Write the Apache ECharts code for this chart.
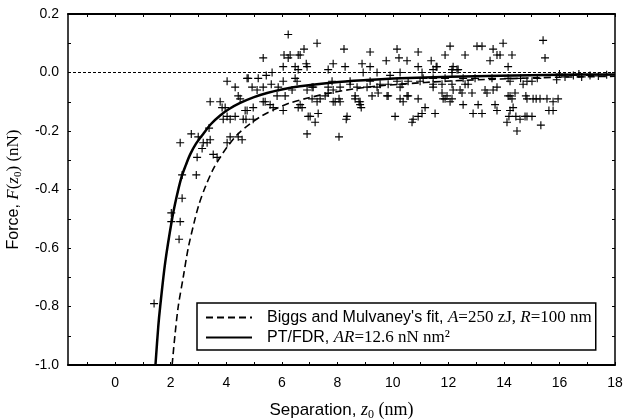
<!DOCTYPE html>
<html>
<head>
<meta charset="utf-8">
<script src="https://cdn.jsdelivr.net/npm/echarts@6/dist/echarts.min.js"></script>
<style>
html, body { margin: 0; padding: 0; background: #fff; }
#chart { width: 625px; height: 419px; }
</style>
</head>
<body>
<div id="chart"></div>
<script>
// axis ticks / labels
var xLabels = [0, 2, 4, 6, 8, 10, 12, 14, 16, 18];
var xTicks = [-1, 0, 1, 2, 3, 4, 5, 6, 7, 8, 9, 10, 11, 12, 13, 14, 15, 16, 17, 18];
var yLabels = [-1.0, -0.8, -0.6, -0.4, -0.2, 0.0, 0.2];
var yTicks = [-1.0, -0.9, -0.8, -0.7, -0.6, -0.5, -0.4, -0.3, -0.2, -0.1, 0.0, 0.1, 0.2];

// measured force points [z0 (nm), F (nN)]
var measured = [
  [1.40,-0.79],[2.02,-0.48],[2.02,-0.51],[2.34,-0.51],[2.30,-0.57],[2.41,-0.43],[2.41,-0.35],[2.92,-0.35],
  [2.34,-0.24],[2.74,-0.21],[2.95,-0.29],[3.13,-0.26],[2.99,-0.22],[3.17,-0.24],[3.42,-0.23],[3.31,-0.24],
  [3.38,-0.19],[3.53,-0.28],[3.67,-0.29],[3.42,-0.10],[3.78,-0.10],[3.96,-0.12],[3.85,-0.12],[4.03,-0.15],
  [4.14,-0.16],[3.89,-0.16],[4.32,-0.15],[4.14,-0.22],[4.43,-0.22],[4.03,-0.24],[4.03,-0.03],[4.32,-0.05],
  [4.43,-0.08],[4.50,-0.09],[4.75,-0.02],[4.75,-0.13],[4.71,-0.16],[4.97,-0.16],[4.97,-0.12],[4.93,-0.05],
  [5.15,-0.02],[5.11,-0.06],[5.33,0.05],[5.33,-0.05],[5.40,-0.10],[5.58,-0.11],[5.65,0.00],[5.62,-0.04],
  [5.87,-0.05],[5.83,-0.08],[6.05,-0.13],[6.05,-0.03],[6.05,0.02],[6.08,0.06],[6.23,0.13],[6.23,0.05],
  [6.12,-0.08],[6.37,-0.06],[6.48,0.02],[6.59,0.01],[6.66,0.06],[6.80,0.08],[6.88,0.03],[6.91,-0.21],
  [6.55,-0.03],[6.66,-0.11],[6.73,-0.12],[7.02,-0.15],[7.20,-0.17],[7.27,0.10],[7.13,-0.05],[7.27,-0.10],
  [7.31,-0.14],[7.38,-0.09],[7.56,-0.08],[7.67,-0.05],[7.67,0.01],[7.85,0.03],[7.85,-0.10],[8.06,-0.09],
  [8.06,-0.22],[8.28,0.02],[8.24,0.08],[8.35,-0.15],[8.10,-0.05],[8.46,-0.04],[8.64,-0.09],[8.78,-0.10],
  [8.86,-0.12],[8.89,0.03],[9.18,0.07],[9.18,0.02],[9.25,-0.08],[9.43,-0.05],[9.54,-0.04],[9.79,-0.08],
  [9.76,0.04],[10.08,-0.15],[10.15,0.08],[10.22,0.05],[10.51,0.04],[10.26,-0.09],[10.51,-0.08],[10.26,-0.05],
  [10.73,-0.16],[10.91,-0.15],[10.91,-0.09],[10.91,0.07],[10.91,0.02],[11.16,-0.12],[11.38,0.04],[11.45,-0.05],
  [11.52,-0.14],[11.59,0.02],[11.81,-0.09],[11.95,-0.08],[11.88,0.06],[12.06,0.09],[12.13,0.01],[12.13,-0.09],
  [12.31,0.01],[12.42,-0.06],[12.53,-0.11],[12.60,0.06],[12.60,-0.04],[12.85,-0.07],[12.89,-0.14],[13.03,0.09],
  [13.21,0.09],[13.07,-0.11],[13.21,-0.14],[13.39,-0.07],[13.61,0.08],[13.50,0.04],[13.75,0.06],[13.86,0.06],
  [13.97,0.10],[13.75,-0.05],[13.75,-0.13],[13.68,-0.11],[14.11,-0.17],[14.15,0.02],[14.22,-0.08],[14.22,-0.13],
  [14.29,0.06],[14.33,-0.12],[14.47,-0.20],[14.43,-0.15],[14.58,-0.16],[14.83,-0.15],[15.01,-0.15],[14.83,-0.09],
  [14.83,-0.03],[15.01,-0.03],[15.05,-0.09],[15.30,-0.09],[15.41,0.11],[15.48,0.05],[15.33,-0.18],[15.55,-0.09],
  [15.62,-0.13],[15.77,-0.13],[15.77,-0.10],[15.95,-0.09],
  [4.79,-0.02],[5.44,-0.01],[6.48,-0.02],[6.91,-0.06],[7.09,-0.05],[7.67,-0.07],[5.33,-0.10],[5.69,-0.12],
  [6.59,-0.12],[6.95,-0.15],[4.68,-0.13],[4.61,-0.16],[4.57,-0.23],[7.92,-0.10],[7.09,-0.09],[6.30,0.06],
  [6.59,0.06],[6.91,0.02],
  [8.93,0.00],[9.43,0.00],[9.90,-0.01],[10.26,0.00],[7.81,-0.03],[8.46,-0.03],[9.18,-0.03],[10.15,-0.03],
  [10.55,-0.03],[10.98,-0.03],[7.85,-0.06],[8.71,-0.05],[9.07,-0.05],[9.83,-0.04],[10.33,-0.04],[8.64,-0.08],
  [9.47,-0.07],[8.10,-0.10],[8.82,-0.10],[9.83,-0.08],[10.55,-0.08],[8.82,-0.11],[10.37,-0.10],[8.32,-0.16],
  [11.05,-0.14],[10.69,-0.17],
  [11.56,0.02],[12.17,0.02],[11.05,0.00],[11.45,0.01],[12.13,0.00],[12.35,0.01],[11.09,-0.02],[11.45,-0.02],
  [11.88,-0.02],[12.53,-0.02],[12.96,-0.02],[13.57,-0.02],[14.15,-0.02],[11.45,-0.04],[11.77,-0.04],[12.13,-0.04],
  [12.71,-0.04],[14.22,-0.03],[11.77,-0.07],[12.17,-0.06],[12.49,-0.07],[13.32,-0.06],[13.61,-0.06],[11.88,-0.09],
  [12.06,-0.10],[14.15,-0.08],[14.29,-0.09],[14.18,-0.15],
  [14.69,-0.04],[14.40,-0.07],[14.79,-0.08],[15.16,-0.09],[14.76,-0.15],
  [14.6,-0.02],[15.2,-0.02],[15.9,-0.025],[16.2,-0.015],[16.5,-0.01],[16.8,-0.015],[17.1,-0.01],[17.4,-0.012],
  [17.7,-0.008],[16.0,-0.005],[16.7,-0.005]
];

// PT/FDR curve, AR = 12.6 nN nm^2
var ptFdr = [
  [1.45,-1.0],[1.55,-0.87],[1.62,-0.80],[1.80,-0.65],[2.05,-0.50],[2.20,-0.43],[2.38,-0.36],[2.55,-0.315],
  [2.70,-0.28],[2.90,-0.245],[3.17,-0.21],[3.45,-0.176],[3.78,-0.147],[4.10,-0.125],[4.50,-0.104],
  [5.00,-0.084],[5.47,-0.07],[6.00,-0.058],[6.66,-0.047],[7.85,-0.034],[9.07,-0.026],[10.26,-0.02],
  [12.06,-0.0145],[13.86,-0.011],[16.0,-0.008],[18.0,-0.0065]
];

// Biggs and Mulvaney's fit
var biggsFit = [
  [2.05,-1.0],[2.15,-0.9],[2.27,-0.8],[2.45,-0.7],[2.63,-0.6],[2.85,-0.51],[3.02,-0.45],[3.25,-0.39],
  [3.53,-0.33],[3.78,-0.29],[4.03,-0.255],[4.40,-0.212],[4.86,-0.175],[5.30,-0.147],[5.83,-0.122],
  [6.30,-0.104],[6.90,-0.088],[7.85,-0.068],[9.07,-0.05],[10.26,-0.04],
  [12.06,-0.029],[13.86,-0.022],[16.0,-0.016],[18.0,-0.013]
];

var zeroLine = [[-1.7, 0], [18, 0]];

var sans = 'Liberation Sans, Arial, sans-serif';
var serif = 'Liberation Serif, Times New Roman, serif';

function richSet(sz, lh) {
  return {
    gap: { width: 10, height: 10 },
    s: { fontFamily: sans, fontSize: sz, color: '#000', lineHeight: lh },
    i: { fontFamily: serif, fontStyle: 'italic', fontSize: sz + 1, color: '#000', lineHeight: lh },
    r: { fontFamily: serif, fontSize: sz + 1, color: '#000', lineHeight: lh },
    sub: { fontFamily: serif, fontSize: sz - 5, color: '#000', lineHeight: lh - 8, verticalAlign: 'bottom' }
  };
}

var plusPath = 'path://M-0.7,-5H0.7V-0.7H5V0.7H0.7V5H-0.7V0.7H-5V-0.7H-0.7Z';

var chart = echarts.init(document.getElementById('chart'));

var frameTick = { show: true, inside: true, length: 3, lineStyle: { color: '#000', width: 1 } };

var option = {
  animation: false,
  backgroundColor: '#fff',
  grid: { left: 68, right: 10, top: 14, bottom: 54, containLabel: false, outerBoundsMode: 'none' },
  legend: {
    orient: 'vertical',
    left: 197,
    top: 303,
    selectedMode: false,
    padding: [6, 4, 4, 8],
    itemGap: 3,
    itemWidth: 46,
    itemHeight: 16,
    borderColor: '#000',
    borderWidth: 1.5,
    borderRadius: 0,
    backgroundColor: '#fff',
    itemStyle: { opacity: 0 },
    data: ["Biggs and Mulvaney's fit", 'PT/FDR'],
    formatter: function (name) {
      if (name === 'PT/FDR') {
        return '{gap|}{s|PT/FDR, }{i|AR}{r|=12.6 nN nm²}';
      }
      return "{gap|}{s|Biggs and Mulvaney's fit, }{i|A}{r|=250 zJ, }{i|R}{r|=100 nm}";
    },
    textStyle: { rich: richSet(16, 18) }
  },
  xAxis: [{
    type: 'value',
    min: -1.7,
    max: 18,
    position: 'bottom',
    name: '{s|Separation, }{i|z}{sub|0}{r| (nm)}',
    nameLocation: 'middle',
    nameGap: 35,
    nameTextStyle: { rich: richSet(17, 21) },
    axisLine: { onZero: false, lineStyle: { color: '#000', width: 2 } },
    axisTick: Object.assign({ customValues: xTicks }, frameTick),
    axisLabel: {
      customValues: xLabels,
      color: '#000', fontFamily: sans, fontSize: 14, margin: 11
    },
    splitLine: { show: false }
  }, {
    type: 'value',
    min: -1.7,
    max: 18,
    position: 'top',
    axisLine: { onZero: false, lineStyle: { color: '#000', width: 2 } },
    axisTick: Object.assign({ customValues: xTicks }, frameTick),
    axisLabel: { show: false },
    splitLine: { show: false }
  }],
  yAxis: [{
    type: 'value',
    min: -1.0,
    max: 0.2,
    position: 'left',
    name: '{s|Force, }{i|F}{r|(}{i|z}{sub|0}{r|) (nN)}',
    nameLocation: 'middle',
    nameRotate: 90,
    nameGap: 36,
    nameTextStyle: { rich: richSet(16, 20) },
    axisLine: { onZero: false, lineStyle: { color: '#000', width: 1.5 } },
    axisTick: Object.assign({ customValues: yTicks }, frameTick),
    axisLabel: {
      customValues: yLabels,
      formatter: function (v) { return v.toFixed(1); },
      color: '#000', fontFamily: sans, fontSize: 14, margin: 9
    },
    splitLine: { show: false }
  }, {
    type: 'value',
    min: -1.0,
    max: 0.2,
    position: 'right',
    axisLine: { onZero: false, lineStyle: { color: '#000', width: 1.5 } },
    axisTick: Object.assign({ customValues: yTicks }, frameTick),
    axisLabel: { show: false },
    splitLine: { show: false }
  }],
  series: [
    {
      name: 'zero',
      type: 'line',
      data: zeroLine,
      symbol: 'none',
      silent: true,
      lineStyle: { color: '#000', width: 1.2, type: [3, 2] },
      z: 1
    },
    {
      name: 'measured',
      type: 'scatter',
      data: measured,
      symbol: plusPath,
      symbolSize: 8,
      itemStyle: { color: '#000', opacity: 1 },
      z: 2
    },
    {
      name: "Biggs and Mulvaney's fit",
      type: 'line',
      data: biggsFit,
      smooth: 0.3,
      symbol: 'none',
      itemStyle: { color: '#000' },
      lineStyle: { color: '#000', width: 1.6, type: [7, 4] },
      z: 3
    },
    {
      name: 'PT/FDR',
      type: 'line',
      data: ptFdr,
      smooth: 0.3,
      symbol: 'none',
      itemStyle: { color: '#000' },
      lineStyle: { color: '#000', width: 2.5 },
      z: 4
    }
  ]
};

chart.setOption(option);
window.addEventListener('resize', function () {
  chart.resize();
});
</script>
</body>
</html>
